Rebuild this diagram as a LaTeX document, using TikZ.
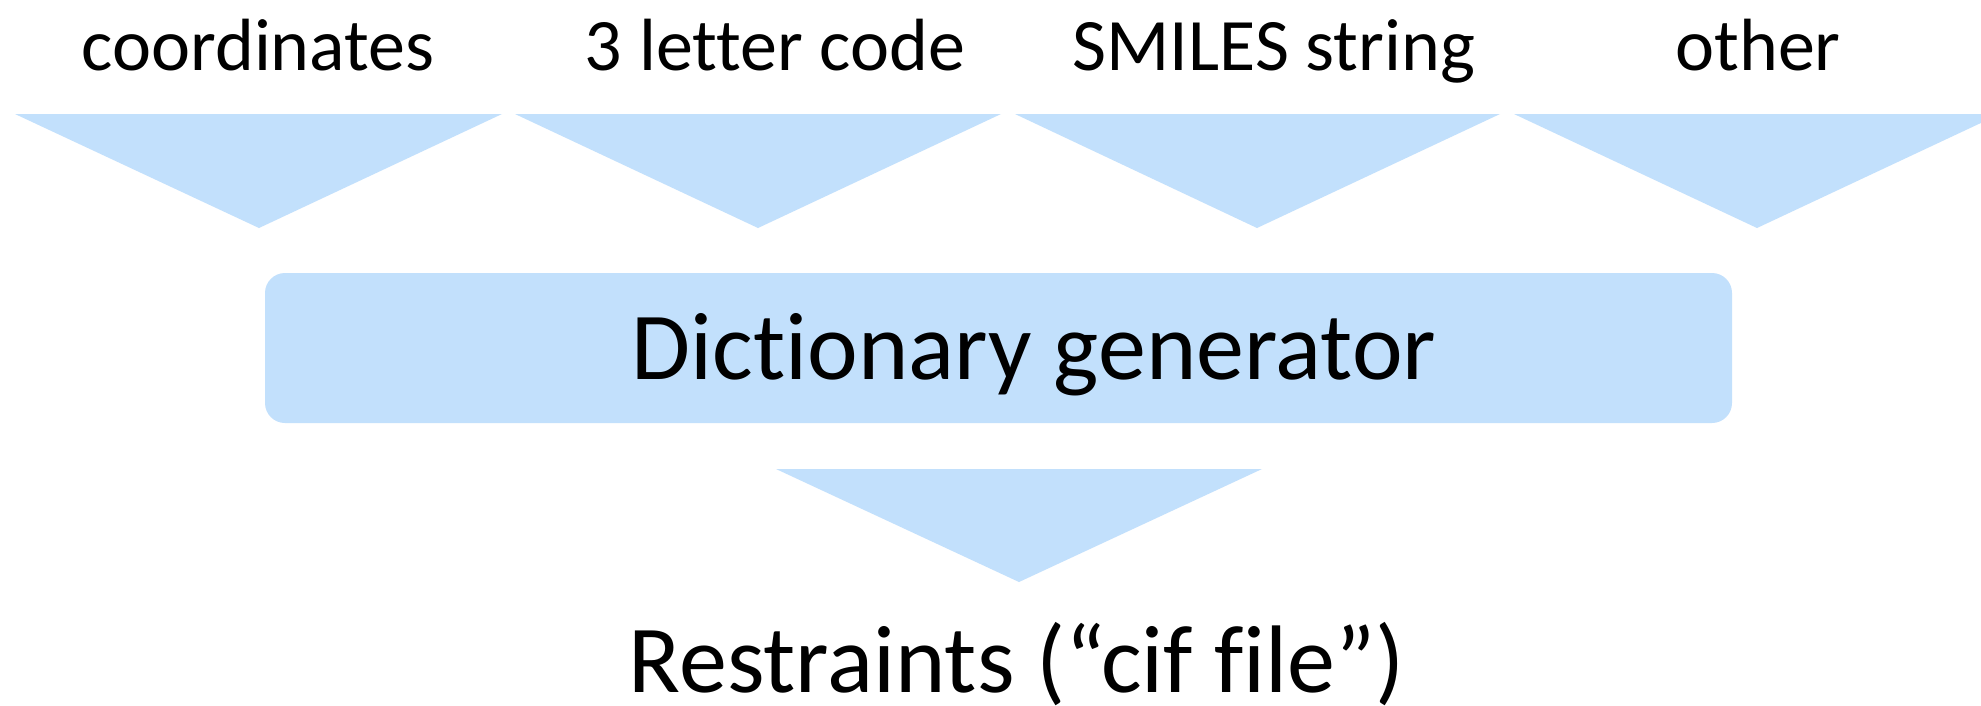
\documentclass[tikz,border=0pt]{standalone}
\usepackage{fontspec}
\setmainfont{Carlito}[Ligatures=NoCommon]
\definecolor{tri}{RGB}{194,224,252}
\begin{document}
\begin{tikzpicture}[x=1pt,y=-1pt,
  lbl/.style={anchor=base,inner sep=0pt,font=\fontsize{74}{80}\selectfont},
  big/.style={anchor=base,inner sep=0pt,font=\fontsize{96}{100}\selectfont},
  arrowtri/.style={fill=tri,draw=none}]
\useasboundingbox (0,0) rectangle (1981,705);
\fill[white] (0,0) rectangle (1981,705);
% top labels
\node[lbl] (coord) at (258,70) {coordinates};
\node[lbl] (three) at (775,70) {3 letter code};
\node[lbl] (smiles) at (1274,70) {SMILES string};
\node[lbl] (other) at (1758,70) {other};
% input triangles
\path[arrowtri] (15,114) -- (502,114) -- (259,228) -- cycle;
\path[arrowtri] (515,114) -- (1001,114) -- (758,228) -- cycle;
\path[arrowtri] (1015,114) -- (1500,114) -- (1257,228) -- cycle;
\path[arrowtri] (1514,114) -- (2000,114) -- (1757,228) -- cycle;
% generator box
\node[fill=tri,rounded corners=20pt,minimum width=1467pt,minimum height=150pt,inner sep=0pt] (gen) at (998.5,348) {};
\node[big] (gentext) at (1034,379) {Dictionary generator};
% output triangle
\path[arrowtri] (776,469) -- (1262,469) -- (1019,582) -- cycle;
\node[big] (restr) at (1017,692) {Restraints (“cif file”)};
\end{tikzpicture}
\end{document}
